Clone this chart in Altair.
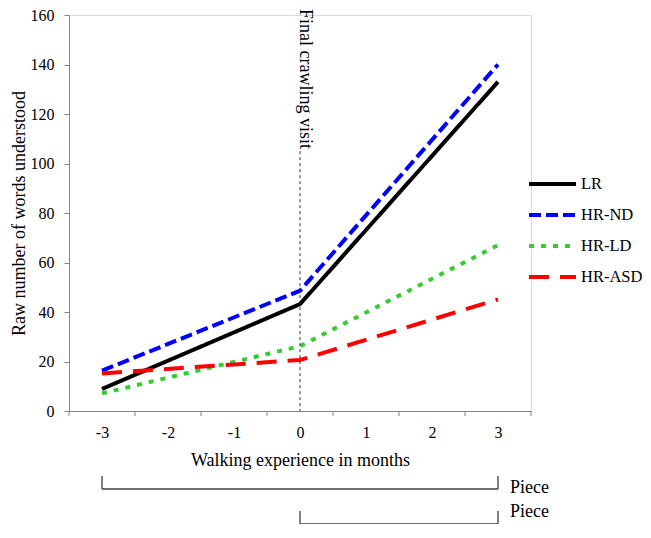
import altair as alt
import pandas as pd

# ---- data ----
months = [-3, 0, 3]
series = ["LR", "HR-ND", "HR-LD", "HR-ASD"]
lr = [8.9, 43.2, 133.0]
hr_nd = [16.3, 48.6, 140.0]
hr_ld = [7.1, 26.2, 67.0]
hr_asd = [15.2, 20.6, 45.1]

x_tick_marks = [-3.5, -2.5, -1.5, -0.5, 0.5, 1.5, 2.5, 3.5]
x_tick_labels = [-3, -2, -1, 0, 1, 2, 3]
y_ticks = [0, 20, 40, 60, 80, 100, 120, 140, 160]

marker_month = [0]
marker_label = ["Final crawling visit"]
marker_top = [105]

bracket_start = [-3, 0]
bracket_end = [3, 3]
bracket_label = ["Piece", "Piece"]

colors = ["#000000", "#0000FF", "#33CC33", "#FF0000"]
dashes = [[1, 0], [12, 5], [5, 7], [20, 11]]

FONT = "Liberation Serif"
AXIS_GRAY = "#868686"

rows = []
for name, vals in zip(series, [lr, hr_nd, hr_ld, hr_asd]):
    for m, v in zip(months, vals):
        rows.append({"month": m, "series": name, "words": v})
df = pd.DataFrame(rows)

x_scale = alt.Scale(domain=[-3.5, 3.5], nice=False, zero=False)
y_scale = alt.Scale(domain=[0, 160], nice=False, zero=True)

x_axis = alt.Axis(
    values=x_tick_labels,
    format="d",
    ticks=False,
    labelOverlap=False,
    labelFlush=False,
    grid=False,
    domainColor=AXIS_GRAY,
    labelFont=FONT,
    labelFontSize=16,
    labelColor="black",
    labelPadding=13,
    title="Walking experience in months",
    titleFont=FONT,
    titleFontSize=18,
    titleFontWeight="normal",
    titleColor="black",
    titlePadding=11,
)
y_axis = alt.Axis(
    values=y_ticks,
    grid=False,
    domainColor=AXIS_GRAY,
    tickColor=AXIS_GRAY,
    tickSize=5,
    labelFont=FONT,
    labelFontSize=16,
    labelColor="black",
    labelPadding=10,
    title="Raw number of words understood",
    titleFont=FONT,
    titleFontSize=18,
    titleFontWeight="normal",
    titleColor="black",
    titlePadding=2,
)

legend = alt.Legend(
    title=None,
    orient="none",
    legendX=458,
    legendY=159,
    symbolType="stroke",
    symbolSize=2209,
    symbolStrokeWidth=4,
    clipHeight=20,
    labelFont=FONT,
    labelFontSize=16.5,
    labelColor="black",
    labelOffset=3,
    rowPadding=11,
)

lines = alt.Chart(df).mark_line(strokeWidth=4, strokeCap="butt").encode(
    x=alt.X("month:Q", scale=x_scale, axis=x_axis),
    y=alt.Y("words:Q", scale=y_scale, axis=y_axis),
    color=alt.Color("series:N", scale=alt.Scale(domain=series, range=colors), legend=legend),
    strokeDash=alt.StrokeDash("series:N", scale=alt.Scale(domain=series, range=dashes), legend=legend),
    order=alt.Order("month:Q"),
)

# tick marks at the category boundaries (Excel-style category axis)
ticks_df = pd.DataFrame({"month": x_tick_marks})
x_ticks_layer = alt.Chart(ticks_df).mark_rule(color=AXIS_GRAY, strokeWidth=1).encode(
    x="month:Q", y=alt.value(396), y2=alt.value(401)
)

marker_df = pd.DataFrame({"month": marker_month, "top": marker_top, "bottom": [0], "label": marker_label})
vline = alt.Chart(marker_df).mark_rule(strokeDash=[3, 3], color="#333333", strokeWidth=1).encode(
    x="month:Q", y="top:Q", y2="bottom:Q"
)
vtext = alt.Chart(marker_df).mark_text(
    angle=90, align="left", baseline="alphabetic", font=FONT, fontSize=18, color="black"
).encode(x="month:Q", y=alt.value(-6), text="label:N")

layers = [lines, x_ticks_layer, vline, vtext]
bracket_y = [474, 509]
label_y = [478, 502]
for i in range(len(bracket_start)):
    bdf = pd.DataFrame({"start": [bracket_start[i]], "end": [bracket_end[i]], "label": [bracket_label[i]]})
    yb = bracket_y[i]
    base = alt.Chart(bdf)
    layers.append(base.mark_rule(color="#404040", strokeWidth=1.3).encode(
        x="start:Q", x2="end:Q", y=alt.value(yb)))
    layers.append(base.mark_rule(color="#404040", strokeWidth=1.3).encode(
        x="start:Q", y=alt.value(yb - 13), y2=alt.value(yb)))
    layers.append(base.mark_rule(color="#404040", strokeWidth=1.3).encode(
        x="end:Q", y=alt.value(yb - 13), y2=alt.value(yb)))
    layers.append(base.mark_text(align="left", baseline="alphabetic", font=FONT, fontSize=18,
                                 color="black", dx=12).encode(
        x="end:Q", y=alt.value(label_y[i]), text="label:N"))

chart = alt.layer(*layers).properties(
    width=462,
    height=396,
    autosize=alt.AutoSizeParams(type="none"),
    padding={"left": 61, "top": 7, "right": 112, "bottom": 113},
).configure_view(stroke=None).configure(
    background="white",
    locale={"number": {"decimal": ".", "thousands": ",", "grouping": [3],
                       "currency": ["$", ""], "minus": "-"}},
)

chart.save("out.html", embed_options={"renderer": "svg", "actions": False})
